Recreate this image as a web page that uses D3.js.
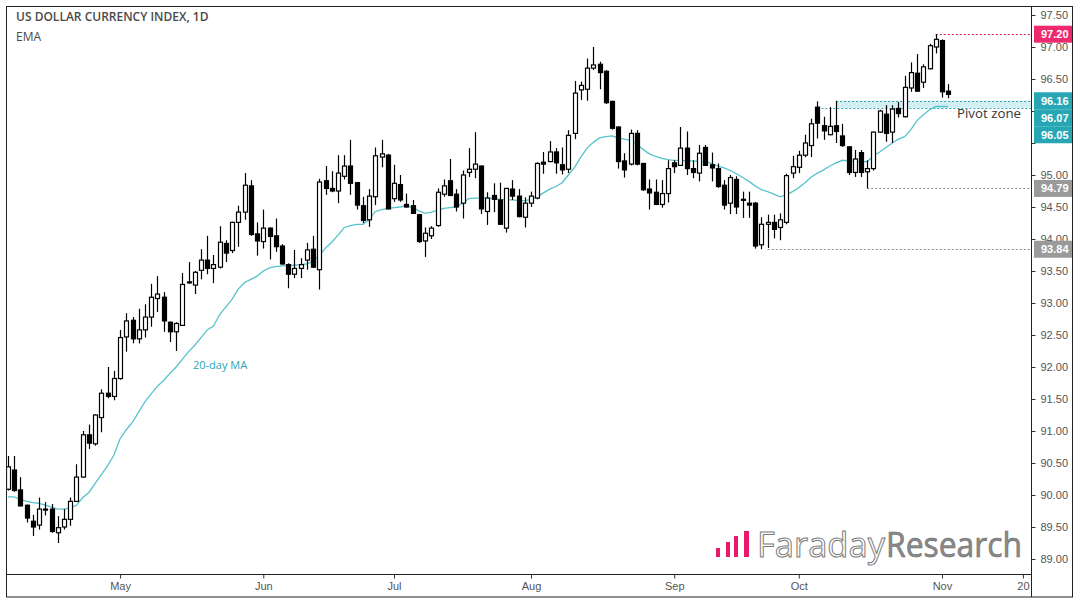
<!DOCTYPE html>
<html><head><meta charset="utf-8">
<script src="https://cdn.jsdelivr.net/npm/d3@7"></script>
<style>html,body{margin:0;padding:0;background:#fff;}svg{display:block;}</style>
</head><body>
<svg id="chart" width="1080" height="609"></svg>
<script>
// ---- data, one candle per weekday Apr 5 2018 .. Nov 2 2018 ----
const opens = [90.09,90.39,90.08,89.84,89.59,89.53,89.78,89.78,89.41,89.50,89.62,89.90,90.28,90.94,90.80,91.21,91.59,91.54,91.82,92.47,
92.73,92.44,92.58,92.78,93.07,93.09,92.70,92.55,92.65,93.32,93.28,93.51,93.67,93.54,93.56,93.93,93.82,94.26,94.42,94.83,
94.08,93.96,94.17,94.05,93.89,93.60,93.45,93.54,93.67,93.84,93.52,94.91,94.79,94.75,94.98,95.14,94.88,94.52,94.30,94.66,
95.28,95.31,94.63,94.85,94.54,94.52,94.38,93.97,94.05,94.21,94.70,94.91,94.70,94.56,95.04,95.09,95.14,94.43,94.68,94.61,
94.17,94.78,94.67,94.34,94.56,94.64,95.20,95.21,95.36,95.16,95.09,95.65,96.33,96.34,96.67,96.73,96.62,96.15,95.75,95.22,
95.17,95.65,95.18,94.78,94.73,94.54,94.71,95.19,95.15,95.42,95.10,95.03,95.43,95.16,95.10,94.84,94.56,94.93,94.62,94.56,
94.56,93.91,94.23,94.26,94.18,94.26,95.03,95.12,95.31,95.46,96.06,95.77,95.63,95.77,95.61,95.44,95.04,95.35,95.05,95.10,
95.67,95.95,95.67,96.04,95.91,96.36,96.59,96.45,96.66,97.00,97.10,96.31];
const highs = [90.61,90.61,90.28,89.85,89.69,89.96,89.89,89.86,89.67,89.78,89.96,90.48,91.00,91.10,91.26,91.65,92.00,91.94,92.58,92.84,
92.78,92.91,92.98,93.30,93.42,93.17,92.71,92.70,93.47,93.64,93.50,93.84,94.05,93.75,94.20,93.98,94.27,94.52,95.03,94.92,
94.26,94.46,94.18,94.32,93.92,93.62,93.83,93.70,93.94,94.05,94.94,95.14,95.06,95.31,95.31,95.55,94.89,94.66,94.78,95.43,
95.55,95.33,95.16,95.00,94.71,94.61,94.38,94.18,94.20,94.79,94.93,95.25,94.78,95.07,95.42,95.67,95.15,94.73,94.87,94.88,
94.80,94.92,94.78,94.65,94.74,95.20,95.36,95.53,95.42,95.43,95.70,96.47,96.46,96.82,97.00,96.77,96.64,96.16,95.76,95.34,
95.71,95.70,95.19,94.93,94.93,94.92,95.23,95.23,95.75,95.68,95.23,95.47,95.47,95.35,95.18,94.92,95.00,94.98,94.74,94.74,
94.58,94.34,94.38,94.38,94.40,95.02,95.30,95.38,95.63,95.88,96.15,95.91,96.06,96.16,95.80,95.45,95.39,95.39,95.23,95.68,
96.02,96.09,96.09,96.14,96.55,96.76,96.89,96.73,97.05,97.20,97.12,96.42];
const lows = [90.07,90.05,89.82,89.57,89.36,89.46,89.68,89.41,89.25,89.46,89.52,89.89,90.27,90.72,90.77,90.98,91.51,91.48,91.80,92.24,
92.37,92.37,92.46,92.63,92.86,92.55,92.39,92.25,92.64,93.30,93.14,93.37,93.45,93.31,93.54,93.64,93.78,93.88,94.30,94.05,
93.74,93.85,93.68,93.80,93.60,93.23,93.39,93.39,93.52,93.55,93.21,94.69,94.73,94.56,94.93,94.69,94.46,94.25,94.19,94.53,
95.12,94.46,94.58,94.58,94.49,94.40,93.94,93.72,94.00,94.19,94.66,94.67,94.43,94.32,94.97,94.95,94.39,94.22,94.42,94.22,
94.10,94.61,94.34,94.18,94.50,94.62,95.02,95.20,95.02,95.01,95.03,95.56,96.17,96.16,96.64,96.34,96.11,95.71,95.10,94.96,
95.15,95.15,94.75,94.46,94.53,94.49,94.57,95.03,95.14,95.00,94.95,94.90,95.14,94.90,94.80,94.46,94.39,94.39,94.33,94.33,
93.85,93.84,93.86,94.01,93.98,94.23,94.95,95.03,95.28,95.28,95.57,95.55,95.62,95.50,95.44,95.00,94.97,94.97,94.79,95.07,
95.66,95.52,95.50,95.90,95.90,96.30,96.30,96.36,96.65,96.90,96.21,96.20];
const closes = [90.44,90.07,89.83,89.64,89.50,89.78,89.77,89.43,89.49,89.62,89.90,90.28,90.94,90.81,91.25,91.59,91.54,91.82,92.46,92.72,
92.44,92.58,92.78,93.09,93.14,92.72,92.55,92.68,93.29,93.33,93.48,93.67,93.54,93.60,93.95,93.78,94.26,94.42,94.84,94.07,
93.97,94.17,94.04,93.88,93.61,93.45,93.54,93.60,93.83,93.56,94.89,94.79,94.75,95.03,95.14,94.87,94.53,94.29,94.67,95.30,
95.33,94.47,94.87,94.61,94.50,94.40,93.96,94.09,94.17,94.73,94.83,94.68,94.50,95.00,95.09,95.17,94.47,94.64,94.62,94.23,
94.79,94.67,94.35,94.56,94.67,95.18,95.17,95.36,95.19,95.08,95.62,96.28,96.40,96.67,96.72,96.60,96.13,95.73,95.21,95.08,
95.65,95.17,94.77,94.72,94.54,94.71,95.10,95.13,95.42,95.10,95.04,95.34,95.15,95.11,94.82,94.53,94.96,94.50,94.61,94.53,
93.89,94.23,94.26,94.15,94.30,94.99,95.13,95.31,95.50,95.80,95.81,95.69,95.76,95.68,95.46,95.04,95.25,95.04,95.10,95.67,
96.00,95.65,96.03,95.96,96.37,96.60,96.31,96.69,97.02,97.12,96.30,96.26];
const ema20 = [89.97,89.97,89.93,89.90,89.88,89.87,89.84,89.81,89.78,89.78,89.80,89.84,89.96,90.04,90.18,90.32,90.46,90.62,90.88,91.02,
91.14,91.30,91.46,91.58,91.70,91.79,91.90,92.00,92.12,92.24,92.34,92.46,92.58,92.64,92.82,92.94,93.06,93.22,93.32,93.37,
93.42,93.50,93.55,93.57,93.58,93.59,93.59,93.60,93.61,93.65,93.74,93.86,93.95,94.06,94.18,94.21,94.23,94.23,94.30,94.43,
94.46,94.48,94.49,94.50,94.52,94.49,94.44,94.40,94.42,94.45,94.48,94.49,94.50,94.56,94.63,94.64,94.64,94.64,94.63,94.62,
94.61,94.61,94.60,94.60,94.62,94.66,94.72,94.78,94.82,94.88,95.00,95.12,95.28,95.42,95.51,95.58,95.60,95.61,95.58,95.56,
95.54,95.48,95.40,95.33,95.29,95.26,95.24,95.23,95.23,95.22,95.22,95.21,95.21,95.18,95.14,95.11,95.07,95.02,94.96,94.90,
94.83,94.77,94.74,94.70,94.66,94.69,94.74,94.80,94.88,94.97,95.03,95.08,95.14,95.19,95.23,95.22,95.21,95.21,95.21,95.30,
95.36,95.43,95.50,95.56,95.60,95.71,95.85,95.94,96.02,96.07,96.07,96.07];
const monthTickIdx = [18, 41, 62, 84, 107, 127, 150, 163];
const monthLabels = ["May", "Jun", "Jul", "Aug", "Sep", "Oct", "Nov", "20"];
const yTickValues = [89.0,89.5,90.0,90.5,91.0,91.5,92.0,92.5,93.0,93.5,94.0,94.5,95.0,95.5,96.0,96.5,97.0,97.5];
const levelValues = [97.20, 96.16, 96.07, 96.05, 94.79, 93.84];
const levelKinds  = ["high", "pivot", "ema", "pivot", "low", "low"];
const levelStart  = [149, 133, null, 130, 138, 122];

// ---- layout ----
const svg = d3.select("#chart");
const L = 7, R = 1031, T = 7, B = 574;
const x = d3.scaleLinear().domain([-0.16, 164.3]).range([L, R]);
const y = d3.scaleLinear().domain([89, 97.5]).range([559, 15]);
const fmt = d3.format(".2f");
const TEAL = "#27a7b3", PINK = "#ee2a6f", GREY = "#9a9a9a";
const H = 17;

svg.append("rect").attr("width",1080).attr("height",609).attr("fill","#fff");

// outer frame
svg.append("rect").attr("x",6.5).attr("y",6.5).attr("width",1066).attr("height",590.5)
  .attr("fill","none").attr("stroke","#222").attr("stroke-width",1);

svg.append("defs").append("clipPath").attr("id","plot")
  .append("rect").attr("x",L).attr("y",T).attr("width",R-L).attr("height",B-T);

const g = svg.append("g").attr("clip-path","url(#plot)");

// pivot zone
const pTop = levelValues[1], pBot = levelValues[3];
g.append("rect").attr("x",x(levelStart[1])).attr("y",y(pTop))
  .attr("width",R - x(levelStart[1])).attr("height",y(pBot)-y(pTop))
  .attr("fill","#d3eff4");

// level lines
levelValues.forEach((v,i)=>{
  if (levelStart[i] === null) return;
  const col = levelKinds[i]==="high" ? "#d81b60" : levelKinds[i]==="pivot" ? TEAL : "#8a8a8a";
  g.append("line").attr("x1",x(levelStart[i])).attr("x2",R)
    .attr("y1",Math.round(y(v))+0.5).attr("y2",Math.round(y(v))+0.5)
    .attr("stroke",col).attr("stroke-width",1).attr("stroke-dasharray","2,2");
});

// EMA
g.append("path").datum(ema20)
  .attr("d", d3.line().x((d,i)=>x(i)).y(d=>y(d)))
  .attr("fill","none").attr("stroke","#55c3cc").attr("stroke-width",1.3);

// candles
const idx = d3.range(opens.length);
const cg = g.append("g");
cg.selectAll("line.wick").data(idx).join("line")
  .attr("x1",i=>Math.round(x(i))+0.5).attr("x2",i=>Math.round(x(i))+0.5)
  .attr("y1",i=>y(highs[i])).attr("y2",i=>y(lows[i]))
  .attr("stroke","#000").attr("stroke-width",1.2);
cg.selectAll("rect.body").data(idx).join("rect")
  .attr("x",i=>Math.round(x(i))-1.5).attr("width",4)
  .attr("y",i=>y(Math.max(opens[i],closes[i])))
  .attr("height",i=>Math.max(1, Math.abs(y(opens[i])-y(closes[i]))))
  .attr("fill",i=>closes[i]>=opens[i] ? "#fff" : "#000")
  .attr("stroke","#000").attr("stroke-width",1.2);

// labels in plot
svg.append("text").attr("x",193).attr("y",369).attr("fill","#2aa6b6")
  .attr("font-family","Open Sans, sans-serif").attr("font-size",11).text("20-day MA");
svg.append("text").attr("x",957).attr("y",118).attr("fill","#333")
  .attr("font-family","Open Sans, sans-serif").attr("font-size",12)
  .attr("textLength",64).attr("lengthAdjust","spacingAndGlyphs").text("Pivot zone");

// title
svg.append("text").attr("x",16).attr("y",21).attr("fill","#4a4a4a")
  .attr("font-family","Open Sans, sans-serif").attr("font-size",12).attr("font-weight",600)
  .text("US DOLLAR CURRENCY INDEX, 1D");
svg.append("text").attr("x",16).attr("y",41).attr("fill","#4a4a4a")
  .attr("font-family","Open Sans, sans-serif").attr("font-size",12)
  .text("EMA");

// axes lines
svg.append("line").attr("x1",6).attr("x2",R).attr("y1",B+0.5).attr("y2",B+0.5).attr("stroke","#222");
svg.append("line").attr("x1",R+0.5).attr("x2",R+0.5).attr("y1",6).attr("y2",597).attr("stroke","#222");

// right-axis value label positions (stacked to avoid overlap)
const order = d3.range(levelValues.length).sort((a,b)=>levelValues[b]-levelValues[a]);
let prev = -Infinity;
const labelY = {};
order.forEach(i=>{ const cy = Math.max(y(levelValues[i]), prev + H); prev = cy; labelY[i] = cy; });
const covered = v => Object.values(labelY).some(cy => Math.abs(y(v) - cy) < H/2);

// y axis
const yAxis = d3.axisRight(y).tickValues(yTickValues)
  .tickFormat(v => covered(v) ? "" : fmt(v)).tickSize(4).tickPadding(5);
const ya = svg.append("g").attr("transform",`translate(${R+0.5},0)`).call(yAxis);
ya.select(".domain").remove();
ya.selectAll("line").attr("stroke","#333");
ya.selectAll("text").attr("font-family","Liberation Sans, Arial, sans-serif").attr("font-size",11).attr("fill","#555");

// x axis
const xAxis = d3.axisBottom(x).tickValues(monthTickIdx).tickFormat((d,i)=>monthLabels[i]).tickSize(4).tickPadding(4);
const xa = svg.append("g").attr("transform",`translate(0,${B+0.5})`).call(xAxis);
xa.select(".domain").remove();
xa.selectAll("line").attr("stroke","#333");
xa.selectAll("text").attr("font-family","Liberation Sans, Arial, sans-serif").attr("font-size",11).attr("fill","#555");

// value label boxes
order.forEach(i=>{
  const cy = labelY[i];
  const col = levelKinds[i]==="high" ? PINK : (levelKinds[i]==="low" ? GREY : TEAL);
  svg.append("rect").attr("x",R+3).attr("y",cy-H/2).attr("width",1072-(R+3)).attr("height",H).attr("fill",col);
  svg.append("text").attr("x",R+10).attr("y",cy).attr("dy","0.35em")
    .attr("font-family","Liberation Sans, Arial, sans-serif").attr("font-size",11).attr("font-weight","bold")
    .attr("fill","#fff").text(fmt(levelValues[i]));
});

// logo
const barH = [9, 15, 21, 26];
const barX = [716, 726, 734, 744];
barH.forEach((h,i)=>{
  svg.append("rect").attr("x",barX[i]).attr("y",557-h).attr("width", i===3?5:4).attr("height",h).attr("fill","#e8196b");
});
svg.append("text").attr("x",757).attr("y",557).attr("font-family","Open Sans, sans-serif")
  .attr("font-size",35).attr("fill","#fff").attr("stroke","#7a7a7a").attr("stroke-width",1)
  .attr("textLength",128).attr("lengthAdjust","spacingAndGlyphs").text("Faraday");
svg.append("text").attr("x",886).attr("y",557).attr("font-family","Open Sans, sans-serif")
  .attr("font-size",35).attr("fill","#8a8a8a").attr("stroke","#6a6a6a").attr("stroke-width",0.6)
  .attr("textLength",136).attr("lengthAdjust","spacingAndGlyphs").text("Research");
</script>
</body></html>
